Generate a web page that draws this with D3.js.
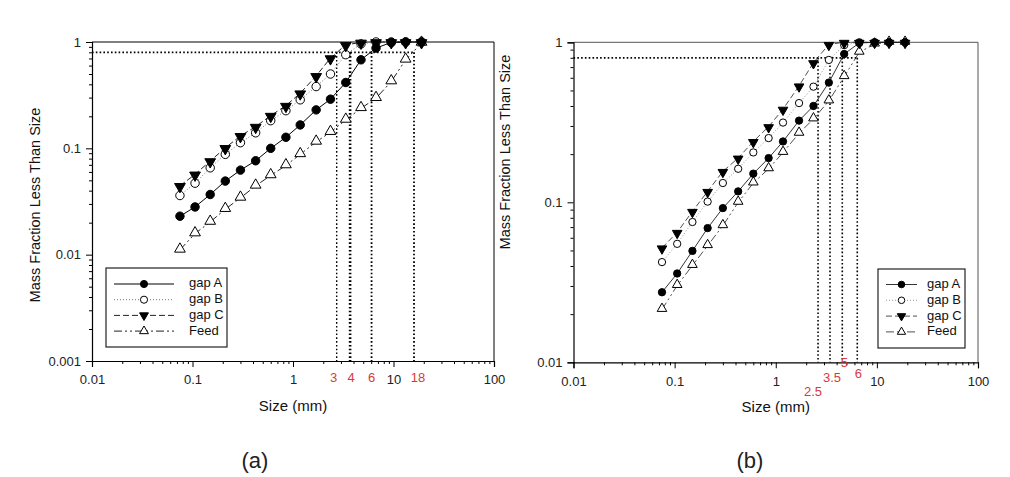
<!DOCTYPE html>
<html><head><meta charset="utf-8">
<script src="https://cdn.jsdelivr.net/npm/d3@7"></script>
<style>
body{margin:0;background:#fff;}
svg{display:block;}
text{font-family:"Liberation Sans",Arial,sans-serif;}
</style></head>
<body><svg id="c" width="1010" height="477"></svg>
<script>
// ---------- data ----------
const sizes = [0.075, 0.106, 0.15, 0.212, 0.3, 0.425, 0.6, 0.85, 1.18, 1.7, 2.36, 3.35, 4.75, 6.7, 9.5, 13.2, 19];
const seriesNames = ["gap A", "gap B", "gap C", "Feed"];

const aGapA = [0.023, 0.0281, 0.0368, 0.0492, 0.0624, 0.0764, 0.1, 0.127, 0.166, 0.23, 0.29, 0.416, 0.68, 0.877, 0.99, 1, 1];
const aGapB = [0.036, 0.047, 0.0656, 0.0878, 0.113, 0.14, 0.182, 0.226, 0.286, 0.381, 0.5, 0.76, 0.96, 1, 1, 1, 1];
const aGapC = [0.0444, 0.0569, 0.076, 0.101, 0.131, 0.16, 0.203, 0.252, 0.33, 0.48, 0.706, 0.94, 0.99, 1, 1, 1, 1];
const aFeed = [0.0111, 0.0158, 0.0203, 0.0268, 0.0342, 0.0444, 0.0556, 0.069, 0.0878, 0.115, 0.142, 0.185, 0.238, 0.296, 0.425, 0.68, 0.98];

const bGapA = [0.0274, 0.0359, 0.0497, 0.069, 0.092, 0.117, 0.151, 0.189, 0.24, 0.324, 0.4, 0.56, 0.845, 0.99, 1, 1, 1];
const bGapB = [0.0423, 0.055, 0.0753, 0.101, 0.132, 0.162, 0.205, 0.252, 0.315, 0.417, 0.528, 0.776, 0.96, 1, 1, 1, 1];
const bGapC = [0.0519, 0.0649, 0.0878, 0.117, 0.156, 0.189, 0.24, 0.297, 0.382, 0.534, 0.746, 0.97, 1, 1, 1, 1, 1];
const bFeed = [0.0214, 0.0302, 0.0403, 0.0536, 0.0714, 0.1, 0.132, 0.162, 0.205, 0.27, 0.332, 0.43, 0.61, 0.867, 0.975, 1, 1];

const refLevel = 0.8;
const aRefSizes = [2.72, 3.7, 6.05, 16.0];
const aRefLabels = ["3", "4", "6", "18"];
const bRefSizes = [2.62, 3.44, 4.55, 6.4];
const bRefLabels = ["2.5", "3.5", "5", "6"];

const xTicks = [0.01, 0.1, 1, 10, 100];
const xTickLabels = ["0.01", "0.1", "1", "10", "100"];
const aYTicks = [0.001, 0.01, 0.1, 1];
const aYTickLabels = ["0.001", "0.01", "0.1", "1"];
const bYTicks = [0.01, 0.1, 1];
const bYTickLabels = ["0.01", "0.1", "1"];

const xTitle = "Size (mm)";
const yTitle = "Mass Fraction Less Than Size";
const panelTitles = ["(a)", "(b)"];

// ---------- drawing ----------
const svg = d3.select("#c");

function minorTicks(lo, hi) {
  const out = [];
  for (let e = Math.round(Math.log10(lo)); e < Math.round(Math.log10(hi)); e++) {
    for (let m = 2; m <= 9; m++) out.push(m * Math.pow(10, e));
  }
  return out;
}

function drawPanel(cfg) {
  const g = svg.append("g");
  const x = d3.scaleLog().domain([0.01, 100]).range(cfg.xr);
  const y = d3.scaleLog().domain(cfg.yd).range(cfg.yr);
  const [x0, x1] = cfg.xr, [y0, y1] = cfg.yr;

  // frame (top and right)
  g.append("path").attr("d", `M${x0},${y1}H${x1}V${y0}`).attr("fill", "none")
    .attr("stroke", cfg.frameColor).attr("stroke-width", 1);

  // axes
  g.append("g").attr("transform", `translate(0,${y0})`)
    .call(d3.axisBottom(x).tickValues(xTicks).tickFormat((d, i) => xTickLabels[i]).tickSize(6).tickPadding(8));
  g.append("g").attr("transform", `translate(0,${y0})`)
    .call(d3.axisBottom(x).tickValues(minorTicks(0.01, 100)).tickFormat("").tickSize(3))
    .select(".domain").remove();
  g.append("g").attr("transform", `translate(${x0},0)`)
    .call(d3.axisLeft(y).tickValues(cfg.yTicks).tickFormat((d, i) => cfg.yTickLabels[i]).tickSize(6).tickPadding(5));
  g.append("g").attr("transform", `translate(${x0},0)`)
    .call(d3.axisLeft(y).tickValues(minorTicks(cfg.yd[0], cfg.yd[1])).tickFormat("").tickSize(3))
    .select(".domain").remove();
  g.selectAll(".domain").attr("stroke", "#000").attr("stroke-width", 1.2);
  g.selectAll(".tick line").attr("stroke", "#000");
  g.selectAll(".tick text").attr("font-size", 13).attr("fill", "#222")
    .attr("font-family", '"Liberation Sans",Arial,sans-serif');

  // axis titles
  g.append("text").attr("x", x(1)).attr("y", y0 + 50)
    .attr("text-anchor", "middle").attr("font-size", 15).attr("fill", "#111").text(xTitle);
  g.append("text").attr("transform", `translate(${cfg.yTitleX},${cfg.yTitleY}) rotate(-90)`)
    .attr("text-anchor", "middle").attr("dominant-baseline", "middle")
    .attr("font-size", 14.5).attr("fill", "#111").text(yTitle);

  // reference lines
  const refMax = d3.max(cfg.refSizes);
  g.append("line").attr("x1", x0).attr("x2", x(refMax)).attr("y1", y(refLevel)).attr("y2", y(refLevel))
    .attr("stroke", "#000").attr("stroke-width", 1.8).attr("stroke-dasharray", "1.6,2.2");
  cfg.refSizes.forEach((s, i) => {
    g.append("line").attr("x1", x(s)).attr("x2", x(s)).attr("y1", y(refLevel)).attr("y2", y0)
      .attr("stroke", "#000").attr("stroke-width", cfg.refWidths[i]).attr("stroke-dasharray", "1.6,2.2");
    g.append("text").attr("x", x(s) + cfg.refLabelDx[i]).attr("y", y0 + cfg.refLabelDy[i])
      .attr("text-anchor", "middle").attr("font-size", 13).attr("fill", "#d83a3a").text(cfg.refLabels[i]);
  });

  // series
  const styles = [
    { dash: null, color: "#000", sym: d3.symbolCircle, fill: "#000", rot: 0 },
    { dash: "1,2", color: "#777", sym: d3.symbolCircle, fill: "#fff", rot: 0 },
    { dash: "6,3", color: "#222", sym: d3.symbolTriangle, fill: "#000", rot: 180 },
    { dash: "8,3,2,3,2,3", color: "#222", sym: d3.symbolTriangle, fill: "#fff", rot: 0 }
  ];
  const line = d3.line().x(d => x(d[0])).y(d => y(d[1]));
  [3, 2, 1, 0].forEach(k => {
    const pts = sizes.map((s, i) => [s, cfg.series[k][i]]);
    g.append("path").attr("d", line(pts)).attr("fill", "none")
      .attr("stroke", styles[k].color).attr("stroke-width", cfg.lineW)
      .attr("stroke-dasharray", styles[k].dash);
  });
  [3, 1, 2, 0].forEach(k => {
    const st = styles[k];
    const sym = d3.symbol().type(st.sym).size(st.sym === d3.symbolCircle ? cfg.circleSize : cfg.triSize);
    g.selectAll(null).data(sizes.map((s, i) => [s, cfg.series[k][i]])).join("path")
      .attr("d", sym)
      .attr("transform", d => `translate(${x(d[0])},${y(d[1]) + (st.sym === d3.symbolTriangle ? (st.rot ? 0.8 : -0.8) : 0)}) rotate(${st.rot})`)
      .attr("fill", st.fill).attr("stroke", "#000").attr("stroke-width", 1);
  });

  // legend
  const L = cfg.legend;
  g.append("rect").attr("x", L.x).attr("y", L.y).attr("width", L.w).attr("height", L.h)
    .attr("fill", "#fff").attr("stroke", "#222").attr("stroke-width", 1.2);
  seriesNames.forEach((name, k) => {
    const st = styles[k];
    const yy = L.y + L.row0 + k * L.dy;
    g.append("line").attr("x1", L.lx1).attr("x2", L.lx2).attr("y1", yy).attr("y2", yy)
      .attr("stroke", st.color).attr("stroke-width", cfg.lineW).attr("stroke-dasharray", st.dash);
    const sym = d3.symbol().type(st.sym).size(st.sym === d3.symbolCircle ? L.cs : L.ts);
    g.append("path").attr("d", sym)
      .attr("transform", `translate(${(L.lx1 + L.lx2) / 2},${yy}) rotate(${st.rot})`)
      .attr("fill", st.fill).attr("stroke", "#000").attr("stroke-width", 1);
    g.append("text").attr("x", L.tx).attr("y", yy).attr("dominant-baseline", "middle")
      .attr("font-size", 13).attr("fill", "#111").text(name);
  });

  // panel title
  g.append("text").attr("x", cfg.titleX).attr("y", 468).attr("text-anchor", "middle")
    .attr("font-family", '"Noto Sans CJK KR","Noto Sans",sans-serif').attr("font-weight", 300)
    .attr("font-size", 22).attr("fill", "#222").text(cfg.title);
}

drawPanel({
  xr: [92, 494], yd: [0.001, 1], yr: [361, 42],
  yTicks: aYTicks, yTickLabels: aYTickLabels,
  series: [aGapA, aGapB, aGapC, aFeed],
  refSizes: aRefSizes, refLabels: aRefLabels,
  refWidths: [1.4, 2.6, 1.8, 1.8], refLabelDx: [-3, 1, 0, 4], refLabelDy: [21, 21, 21, 21],
  yTitleX: 36, yTitleY: 205, frameColor: "#000",
  lineW: 1, circleSize: 56, triSize: 50,
  legend: { x: 106, y: 268, w: 121, h: 79, row0: 16, dy: 15.7, lx1: 114, lx2: 174, tx: 189, cs: 40, ts: 34 },
  titleX: 255, title: panelTitles[0]
});

drawPanel({
  xr: [573.5, 978], yd: [0.01, 1], yr: [362.3, 42.3],
  yTicks: bYTicks, yTickLabels: bYTickLabels,
  series: [bGapA, bGapB, bGapC, bFeed],
  refSizes: bRefSizes, refLabels: bRefLabels,
  refWidths: [1.6, 1.6, 1.6, 1.6], refLabelDx: [-5, 2, 2, 1], refLabelDy: [34, 20, 5, 16],
  yTitleX: 506, yTitleY: 152, frameColor: "#555",
  lineW: 0.8, circleSize: 42, triSize: 40,
  legend: { x: 878, y: 269, w: 87, h: 79, row0: 15.5, dy: 15.8, lx1: 886, lx2: 917, tx: 927, cs: 34, ts: 30 },
  titleX: 750, title: panelTitles[1]
});
</script></body></html>
